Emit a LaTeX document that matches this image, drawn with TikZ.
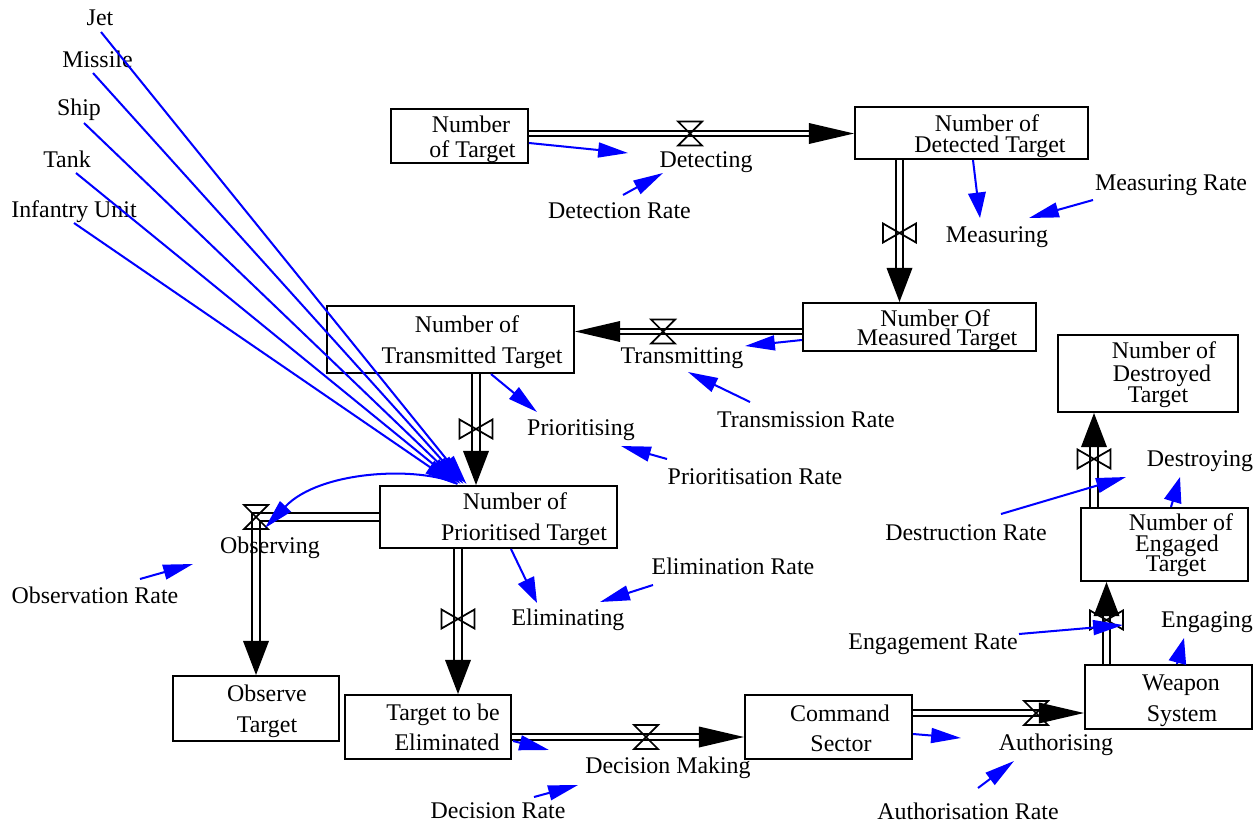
\documentclass[tikz,border=0pt]{standalone}
\usepackage{fontspec}
\setmainfont{Liberation Serif}
\usetikzlibrary{arrows.meta,calc,decorations.markings,backgrounds}

\definecolor{linkblue}{RGB}{0,0,255}

\tikzset{
  stock/.style={draw, line width=1.2pt, inner sep=0pt},
  lbl/.style={font=\fontsize{13.6pt}{16pt}\selectfont, inner sep=0pt, anchor=base},
  pipeH/.style={draw, line width=1.05pt, double=white, double distance=2.1pt},
  pipeV/.style={draw, line width=1.05pt, double=white, double distance=3.2pt},
  headH/.style={postaction={decorate}, decoration={markings,
      mark=at position 1 with {\fill (0,0) -- (-45,10.5) -- (-45,-10.5) -- cycle;}}},
  headV/.style={postaction={decorate}, decoration={markings,
      mark=at position 1 with {\fill (0,0) -- (-34,13) -- (-34,-13) -- cycle;}}},
  info/.style={draw=linkblue, line width=1.15pt, -{Triangle[length=17pt,width=8.5pt]}},
  infov/.style={draw=linkblue, line width=1.15pt, -{Triangle[length=14.5pt,width=10pt]}},
  hourglass/.pic={\draw[line width=1pt] (-12,-12) -- (12,-12) -- (-12,12) -- (12,12) -- cycle;},
  bowtie/.pic={\draw[line width=1pt] (-16.5,-9.5) -- (-16.5,9.5) -- (16.5,-9.5) -- (16.5,9.5) -- cycle;},
}

\begin{document}
\begin{tikzpicture}[x=0.02cm, y=-0.02cm]
\useasboundingbox (0,0) rectangle (1255,825);

% ---------- stocks ----------
\node[stock, minimum width=2.74cm, minimum height=1.08cm] (nt)  at (459.5,136)   {};
\node[stock, minimum width=4.66cm, minimum height=1.04cm] (dt)  at (971.5,133)   {};
\node[stock, minimum width=4.66cm, minimum height=0.96cm] (mt)  at (919.5,327)   {};
\node[stock, minimum width=4.94cm, minimum height=1.34cm] (tt)  at (450.5,339.5) {};
\node[stock, minimum width=4.74cm, minimum height=1.24cm] (pt)  at (498.5,517)   {};
\node[stock, minimum width=3.32cm, minimum height=1.30cm] (ot)  at (256,708.5)   {};
\node[stock, minimum width=3.32cm, minimum height=1.28cm] (te)  at (428,727)     {};
\node[stock, minimum width=3.34cm, minimum height=1.28cm] (cs)  at (828.5,727)   {};
\node[stock, minimum width=3.34cm, minimum height=1.28cm] (ws)  at (1168.5,697)  {};
\node[stock, minimum width=3.34cm, minimum height=1.46cm] (et)  at (1164.5,544.5) {};
\node[stock, minimum width=3.60cm, minimum height=1.54cm] (dst) at (1148,373.5)  {};

% ---------- stock names ----------
\node[lbl] (nt1) at (471,132)   {Number};
\node[lbl] (nt2) at (472.5,157) {of Target};
\node[lbl] (dt1) at (987,131)   {Number of};
\node[lbl] (dt2) at (990,152)   {Detected Target};
\node[lbl] (mt1) at (935,326)   {Number Of};
\node[lbl] (mt2) at (937,345)   {Measured Target};
\node[lbl] (tt1) at (467,332)   {Number of};
\node[lbl] (tt2) at (472,363)   {Transmitted Target};
\node[lbl] (pt1) at (515,509)   {Number of};
\node[lbl] (pt2) at (524,540)   {Prioritised Target};
\node[lbl] (ot1) at (267,701)   {Observe};
\node[lbl] (ot2) at (267,732)   {Target};
\node[lbl] (te1) at (443,720)   {Target to be};
\node[lbl] (te2) at (447,750)   {Eliminated};
\node[lbl] (cs1) at (840,721)   {Command};
\node[lbl] (cs2) at (841,751)   {Sector};
\node[lbl] (ws1) at (1181,690)  {Weapon};
\node[lbl] (ws2) at (1182,721)  {System};
\node[lbl] (et1) at (1181,530)  {Number of};
\node[lbl] (et2) at (1177,551)  {Engaged};
\node[lbl] (et3) at (1176,571)  {Target};
\node[lbl] (ds1) at (1164,358)  {Number of};
\node[lbl] (ds2) at (1162,381)  {Destroyed};
\node[lbl] (ds3) at (1158,402)  {Target};

% ---------- valves ----------
\coordinate (vdet)   at (690,133.5);
\coordinate (vmeas)  at (899.5,233);
\coordinate (vtrans) at (663,331.5);
\coordinate (vprio)  at (476,429);
\coordinate (vobs)   at (256,517);
\coordinate (velim)  at (458,619);
\coordinate (vdec)   at (646,737);
\coordinate (vauth)  at (1036,713);
\coordinate (veng)   at (1106.5,620);
\coordinate (vdes)   at (1094,459);

% ---------- flow pipes ----------
\begin{pgfonlayer}{background}
\draw[pipeH, shorten >=0.88cm] (nt.east |- vdet) -- (dt.west |- vdet);
\draw[pipeV, shorten >=0.66cm] (dt.south -| vmeas) -- (mt.north -| vmeas);
\draw[pipeH, shorten >=0.86cm] (mt.west |- vtrans) -- (tt.east |- vtrans);
\draw[pipeV, shorten >=0.66cm] (tt.south -| vprio) -- (pt.north -| vprio);
\draw[pipeV, shorten >=0.66cm, line join=miter] (pt.west |- vobs) -- (vobs) -- (vobs |- ot.north);
\draw[pipeV, shorten >=0.66cm] (pt.south -| velim) -- (te.north -| velim);
\draw[pipeH, shorten >=0.86cm] (te.east |- vdec) -- (cs.west |- vdec);
\draw[pipeH, shorten >=0.86cm] (cs.east |- vauth) -- (ws.west |- vauth);
\draw[pipeV, shorten >=0.60cm] (ws.north -| veng) -- (et.south -| veng);
\draw[pipeV, shorten >=0.64cm] (et.north -| vdes) -- (dst.south -| vdes);
\end{pgfonlayer}

% ---------- flow arrowheads ----------
\path[headH] (nt.east |- vdet) -- (dt.west |- vdet);
\path[headV] (dt.south -| vmeas) -- (mt.north -| vmeas);
\path[headH] (mt.west |- vtrans) -- (tt.east |- vtrans);
\path[headV] (tt.south -| vprio) -- (pt.north -| vprio);
\path[headV] (vobs) -- (vobs |- ot.north);
\path[headV] (pt.south -| velim) -- (te.north -| velim);
\path[headH] (te.east |- vdec) -- (cs.west |- vdec);
\path[headH] (cs.east |- vauth) -- (ws.west |- vauth);
\path[headV] (ws.north -| veng) -- (et.south -| veng);
\path[headV] (et.north -| vdes) -- (dst.south -| vdes);

% ---------- valve symbols ----------
\pic at (vdet)   {hourglass};
\pic at (vtrans) {hourglass};
\pic at (vobs)   {hourglass};
\pic at (vdec)   {hourglass};
\pic at (vauth)  {hourglass};
\pic at (vmeas)  {bowtie};
\pic at (vprio)  {bowtie};
\pic at (velim)  {bowtie};
\pic at (veng)   {bowtie};
\pic at (vdes)   {bowtie};

% ---------- flow names ----------
\node[lbl] (detecting)    at (706,167)  {Detecting};
\node[lbl] (measuring)    at (997,242)  {Measuring};
\node[lbl] (transmitting) at (682,363)  {Transmitting};
\node[lbl] (prioritising) at (581,435)  {Prioritising};
\node[lbl] (observing)    at (270,553)  {Observing};
\node[lbl] (eliminating)  at (568,625)  {Eliminating};
\node[lbl] (decision)     at (668,773)  {Decision Making};
\node[lbl] (authorising)  at (1056,750) {Authorising};
\node[lbl] (engaging)     at (1207,627) {Engaging};
\node[lbl] (destroying)   at (1200,466) {Destroying};

% ---------- auxiliaries ----------
\node[lbl] (detrate)  at (619.5,218) {Detection Rate};
\node[lbl] (measrate) at (1171,190)  {Measuring Rate};
\node[lbl] (transrate) at (806,427)  {Transmission Rate};
\node[lbl] (priorate) at (755,484)   {Prioritisation Rate};
\node[lbl] (obsrate)  at (95,603)    {Observation Rate};
\node[lbl] (elimrate) at (733,574)   {Elimination Rate};
\node[lbl] (decrate)  at (498,818)   {Decision Rate};
\node[lbl] (authrate) at (968,819)   {Authorisation Rate};
\node[lbl] (engrate)  at (933,649)   {Engagement Rate};
\node[lbl] (desrate)  at (966,540)   {Destruction Rate};
\node[lbl] (jet)      at (100,25)    {Jet};
\node[lbl] (missile)  at (97.5,67)   {Missile};
\node[lbl] (ship)     at (79,115)    {Ship};
\node[lbl] (tank)     at (67,167)    {Tank};
\node[lbl] (infantry) at (74,217)    {Infantry Unit};

% ---------- information links ----------
\draw[info]  ($(nt.east)+(0,7)$)        -- ($(detecting.base)+(-78,-14)$);
\draw[info]  ($(detrate.base)+(3.5,-23)$) -- ($(detecting.base)+(-43,6)$);
\draw[infov] ($(dt.south)+(1.5,0)$)      -- ($(measuring.base)+(-17,-24)$);
\draw[info]  ($(measrate.base)+(-78,10)$) -- ($(measuring.base)+(32,-24)$);
\draw[info]  ($(mt.west)+(0,13)$)        -- ($(transmitting.base)+(63,-17)$);
\draw[info]  ($(transrate.base)+(-56,-25)$) -- ($(transmitting.base)+(6,9)$);
\draw[info]  ($(tt.south)+(40.5,0)$)     -- ($(prioritising.base)+(-44,-23)$);
\draw[info]  ($(priorate.base)+(-88,-25)$) -- ($(prioritising.base)+(40,11)$);

\draw[info]  ($(jet.base)+(1,7)$)        -- ($(pt.north)+(-32,-1)$);
\draw[info]  ($(missile.base)+(-4.5,6)$) -- ($(pt.north)+(-35,-1)$);
\draw[info]  ($(ship.base)+(5,8)$)       -- ($(pt.north)+(-38,-1)$);
\draw[info]  ($(tank.base)+(9,6)$)       -- ($(pt.north)+(-41,-1)$);
\draw[info]  ($(infantry.base)+(0,6)$)   -- ($(pt.north)+(-44,-1)$);

\draw[info]  ($(pt.north)+(-41,-1)$) .. controls +(-38,-18) and +(55,-58) .. ($(vobs)+(9,11)$);
\draw[info]  ($(obsrate.base)+(45,-24)$) -- ($(observing.base)+(-77,11)$);

\draw[infov] ($(pt.south)+(12.5,0)$)     -- ($(eliminating.base)+(-31,-22)$);
\draw[info]  ($(elimrate.base)+(-80,11)$) -- ($(eliminating.base)+(32,-23)$);
\draw[info]  ($(te.east)+(1,14)$)        -- ($(decision.base)+(-119,-23)$);
\draw[info]  ($(decrate.base)+(36,-21)$) -- ($(decision.base)+(-90,12)$);
\draw[info]  ($(cs.east)+(0,7)$)         -- ($(authorising.base)+(-95,-12)$);
\draw[info]  ($(authrate.base)+(10,-31)$) -- ($(authorising.base)+(-42,11)$);
\draw[infov] ($(ws.north)+(8.5,0)$)      -- ($(engaging.base)+(-23,11)$);
\draw[info]  ($(engrate.base)+(86,-15)$) -- ($(engaging.base)+(-84,-2)$);
\draw[infov] ($(et.north)+(6.5,0)$)      -- ($(destroying.base)+(-20,11)$);
\draw[info]  ($(desrate.base)+(35,-26)$) -- ($(destroying.base)+(-74,11)$);
\end{tikzpicture}
\end{document}
